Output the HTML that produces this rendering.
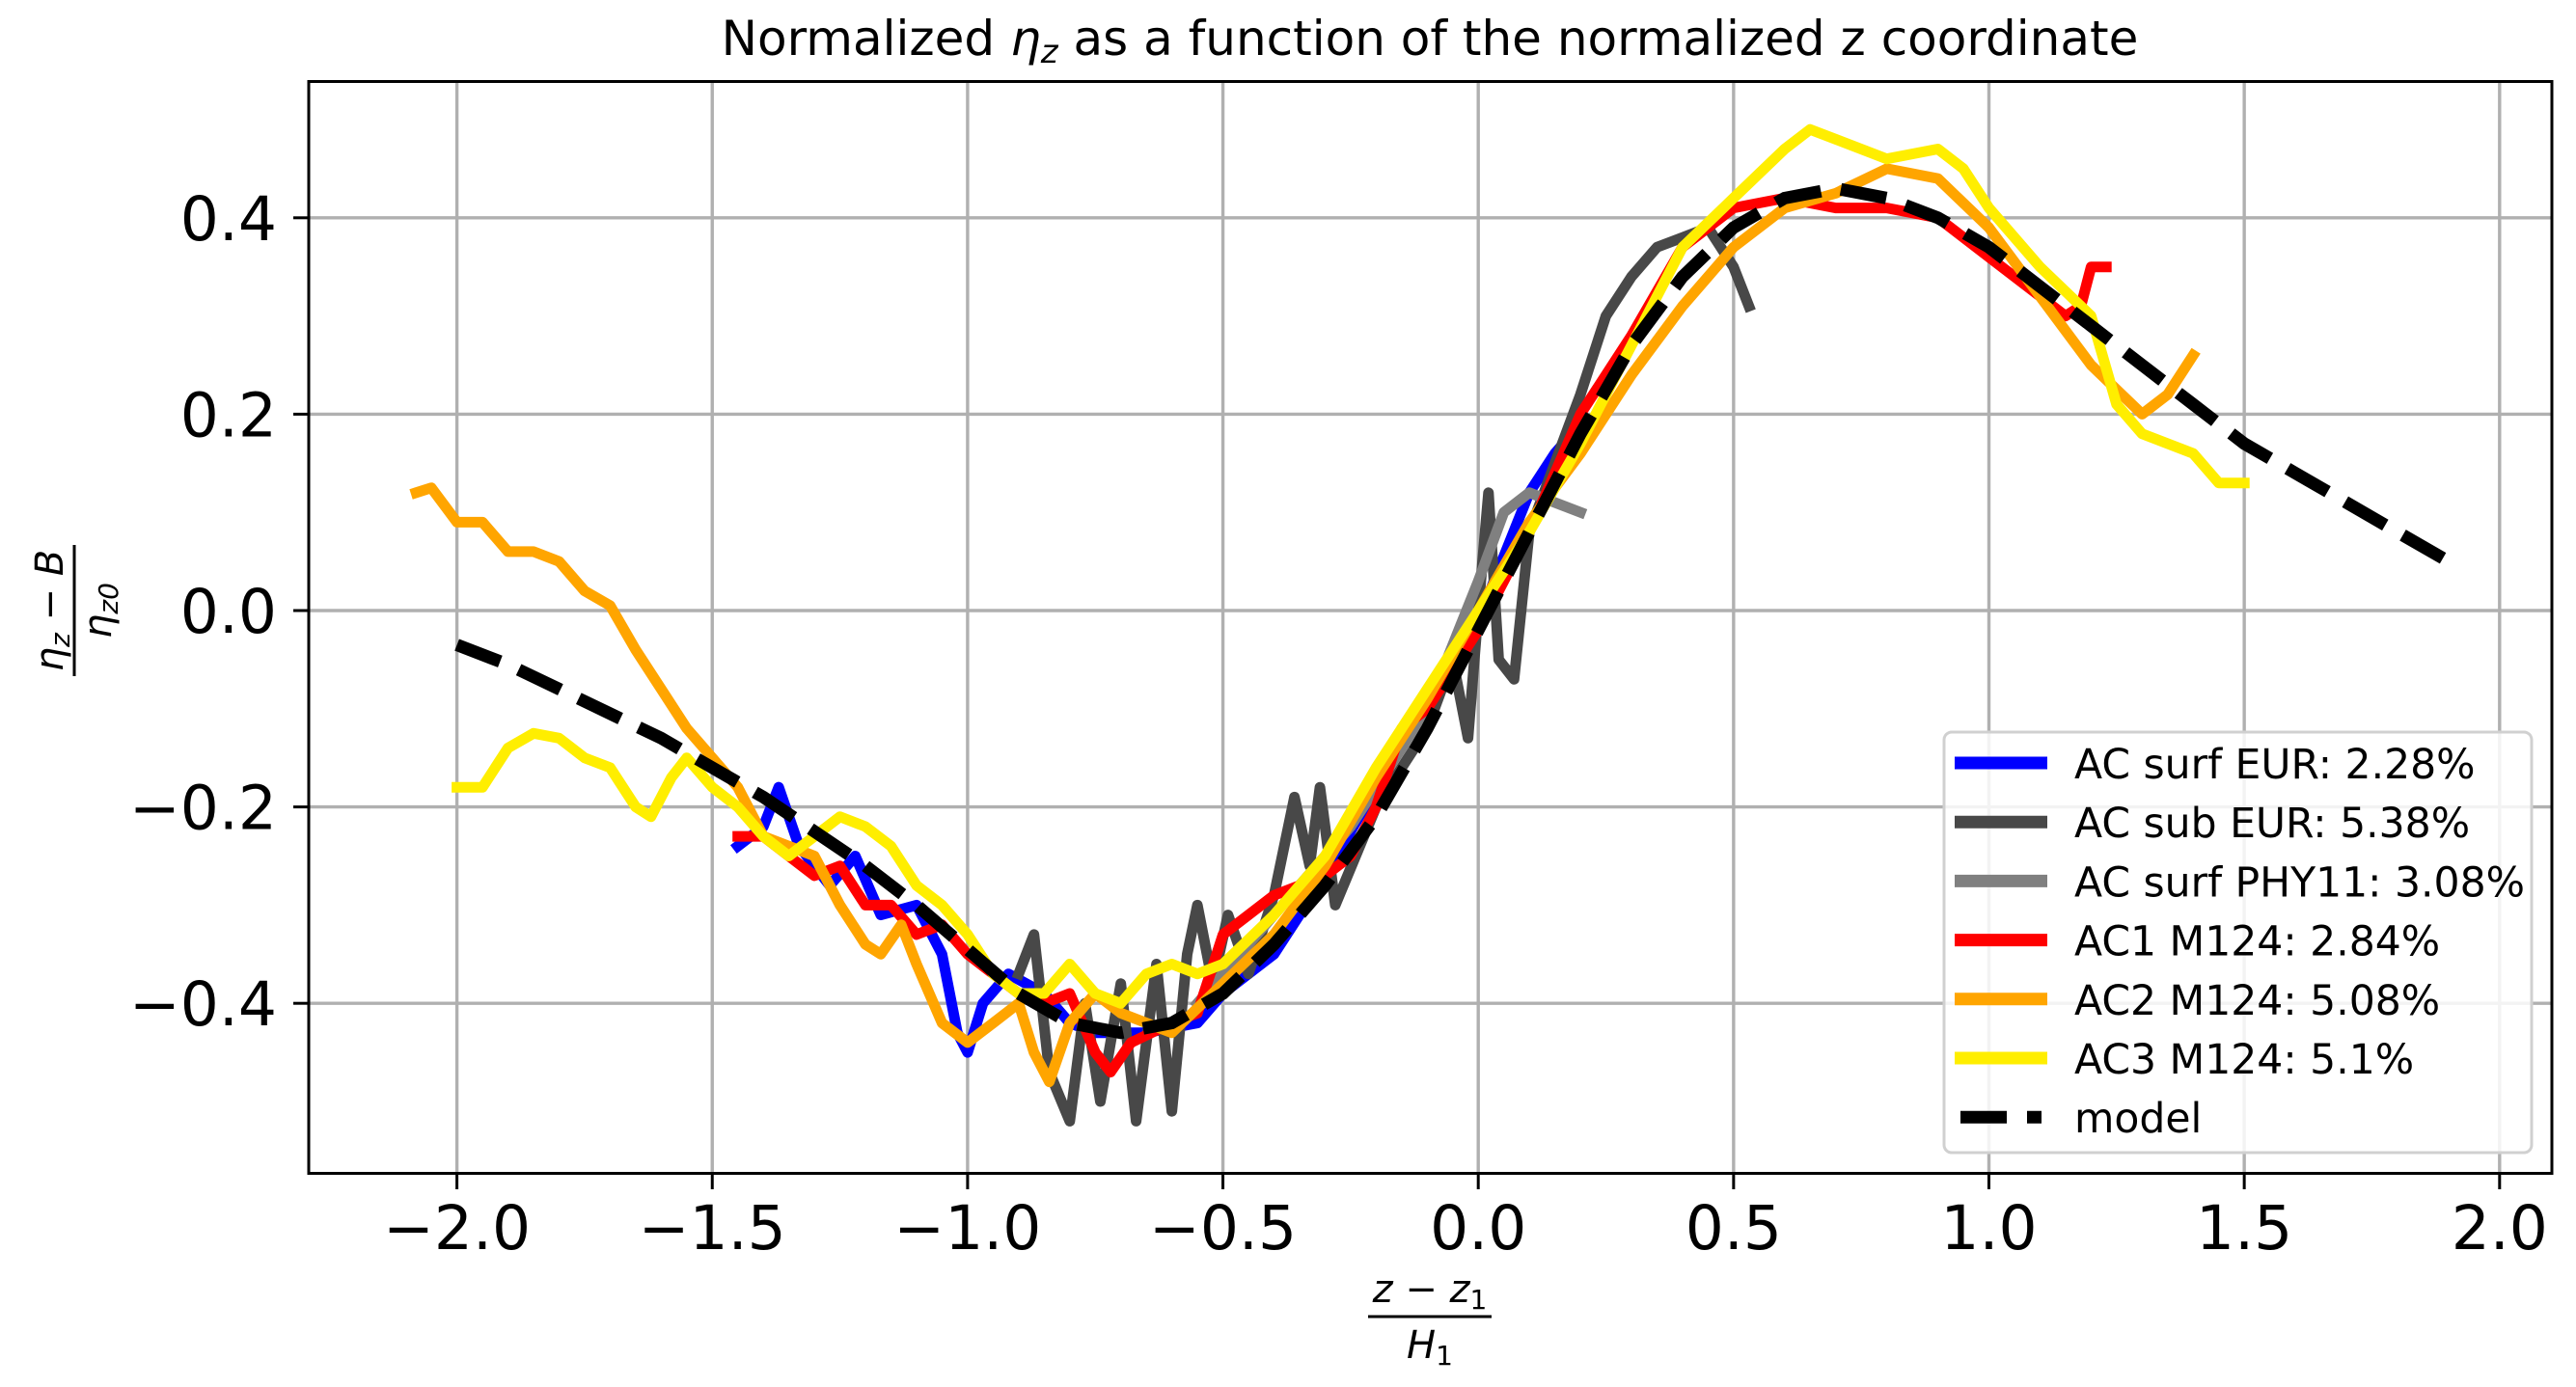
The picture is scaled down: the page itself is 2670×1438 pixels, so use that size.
<!DOCTYPE html>
<html><head><meta charset="utf-8"><style>
html,body{margin:0;padding:0;background:#fff;}
svg{display:block;font-family:"DejaVu Sans","Liberation Sans",sans-serif;}
</style></head><body>
<svg id="chart" width="2670" height="1438" viewBox="0 0 2670 1438" xmlns="http://www.w3.org/2000/svg">
<rect width="2670" height="1438" fill="#fff"/>
<g id="grid"></g>
<g id="series"></g>
<rect x="320" y="84.5" width="2325" height="1132" fill="none" stroke="#000" stroke-width="3"/>
<g id="ticks"></g>
<text x="1482" y="57" font-size="50" text-anchor="middle">Normalized <tspan font-style="italic">η</tspan><tspan font-style="italic" font-size="34" dy="8">z</tspan><tspan dy="-8"> as a function of the normalized z coordinate</tspan></text>
<g>
<text x="1482" y="1350" font-size="40" text-anchor="middle" font-style="italic">z − z<tspan font-size="28" dy="7" font-style="normal">1</tspan></text>
<line x1="1418" y1="1365" x2="1546" y2="1365" stroke="#000" stroke-width="3"/>
<text x="1482" y="1408" font-size="40" text-anchor="middle" font-style="italic">H<tspan font-size="28" dy="7" font-style="normal">1</tspan></text>
</g>
<g transform="translate(77,633) rotate(-90)">
<text x="0" y="-12" font-size="40" text-anchor="middle" font-style="italic">η<tspan font-size="28" dy="7">z</tspan><tspan dy="-7" font-style="normal"> − </tspan>B</text>
<line x1="-68" y1="0" x2="68" y2="0" stroke="#000" stroke-width="3"/>
<text x="0" y="38" font-size="40" text-anchor="middle" font-style="italic">η<tspan font-size="28" dy="7">z0</tspan></text>
</g>
<g id="legend">
<rect x="2015" y="759" width="609" height="436" rx="8" fill="#fff" fill-opacity="0.85" stroke="#d0d0d0" stroke-width="3"/>
</g>
</svg>
<script>
const xTicks = [-2.0,-1.5,-1.0,-0.5,0.0,0.5,1.0,1.5,2.0];
const yTicks = [-0.4,-0.2,0.0,0.2,0.4];
const modelX = [-2.0,-1.9,-1.8,-1.7,-1.6,-1.5,-1.4,-1.3,-1.2,-1.1,-1.0,-0.9,-0.8,-0.7,-0.6,-0.5,-0.4,-0.3,-0.2,-0.1,0,0.1,0.2,0.3,0.4,0.5,0.6,0.7,0.8,0.9,1.0,1.1,1.2,1.3,1.4,1.5,1.6,1.7,1.8,1.9];
const modelY = [-0.035,-0.055,-0.08,-0.105,-0.13,-0.16,-0.19,-0.225,-0.26,-0.30,-0.345,-0.39,-0.42,-0.43,-0.42,-0.39,-0.34,-0.28,-0.21,-0.12,-0.02,0.08,0.18,0.27,0.34,0.39,0.42,0.43,0.42,0.40,0.37,0.33,0.29,0.25,0.21,0.17,0.14,0.11,0.08,0.05];
const ac2 = [[-2.08,0.12],[-2.05,0.125],[-2.0,0.09],[-1.95,0.09],[-1.9,0.06],[-1.85,0.06],[-1.8,0.05],[-1.75,0.02],[-1.7,0.005],[-1.65,-0.04],[-1.6,-0.08],[-1.55,-0.12],[-1.5,-0.15],[-1.45,-0.18],[-1.4,-0.23],[-1.35,-0.24],[-1.3,-0.25],[-1.25,-0.3],[-1.2,-0.34],[-1.17,-0.35],[-1.13,-0.32],[-1.1,-0.36],[-1.05,-0.42],[-1.0,-0.44],[-0.95,-0.42],[-0.9,-0.4],[-0.87,-0.45],[-0.84,-0.48],[-0.8,-0.42],[-0.75,-0.39],[-0.7,-0.41],[-0.6,-0.43],[-0.5,-0.38],[-0.4,-0.33],[-0.3,-0.26],[-0.2,-0.17],[-0.1,-0.09],[0,0.0],[0.1,0.09],[0.2,0.16],[0.3,0.24],[0.4,0.31],[0.5,0.37],[0.6,0.41],[0.7,0.425],[0.8,0.45],[0.9,0.44],[1.0,0.39],[1.1,0.32],[1.2,0.25],[1.3,0.2],[1.35,0.22],[1.4,0.26]];
const ac3 = [[-2.0,-0.18],[-1.95,-0.18],[-1.9,-0.14],[-1.85,-0.125],[-1.8,-0.13],[-1.75,-0.15],[-1.7,-0.16],[-1.65,-0.2],[-1.62,-0.21],[-1.58,-0.17],[-1.55,-0.15],[-1.5,-0.18],[-1.45,-0.2],[-1.4,-0.23],[-1.35,-0.25],[-1.3,-0.23],[-1.25,-0.21],[-1.2,-0.22],[-1.15,-0.24],[-1.1,-0.28],[-1.05,-0.3],[-1.0,-0.33],[-0.95,-0.37],[-0.9,-0.39],[-0.85,-0.39],[-0.8,-0.36],[-0.75,-0.39],[-0.7,-0.4],[-0.65,-0.37],[-0.6,-0.36],[-0.55,-0.37],[-0.5,-0.36],[-0.4,-0.31],[-0.3,-0.25],[-0.2,-0.16],[-0.1,-0.08],[0,0.0],[0.1,0.08],[0.2,0.17],[0.3,0.27],[0.4,0.37],[0.5,0.42],[0.6,0.47],[0.65,0.49],[0.7,0.48],[0.8,0.46],[0.9,0.47],[0.95,0.45],[1.0,0.41],[1.1,0.35],[1.2,0.3],[1.25,0.21],[1.3,0.18],[1.4,0.16],[1.45,0.13],[1.5,0.13]];
const ac1 = [[-1.45,-0.23],[-1.4,-0.23],[-1.35,-0.25],[-1.3,-0.27],[-1.25,-0.26],[-1.2,-0.3],[-1.15,-0.3],[-1.1,-0.33],[-1.05,-0.32],[-1.0,-0.35],[-0.95,-0.37],[-0.9,-0.39],[-0.85,-0.4],[-0.8,-0.39],[-0.75,-0.45],[-0.72,-0.47],[-0.68,-0.44],[-0.6,-0.42],[-0.55,-0.41],[-0.5,-0.33],[-0.45,-0.31],[-0.4,-0.29],[-0.3,-0.27],[-0.25,-0.25],[-0.2,-0.2],[-0.15,-0.12],[-0.1,-0.1],[0,-0.02],[0.1,0.08],[0.2,0.2],[0.3,0.28],[0.4,0.37],[0.5,0.41],[0.6,0.42],[0.7,0.41],[0.8,0.41],[0.9,0.4],[1.0,0.36],[1.1,0.32],[1.15,0.3],[1.18,0.31],[1.2,0.35],[1.23,0.35]];
const acSurfEur = [[-1.45,-0.24],[-1.4,-0.22],[-1.37,-0.18],[-1.33,-0.24],[-1.27,-0.28],[-1.22,-0.25],[-1.17,-0.31],[-1.1,-0.3],[-1.05,-0.35],[-1.02,-0.43],[-1.0,-0.45],[-0.97,-0.4],[-0.92,-0.37],[-0.85,-0.39],[-0.8,-0.42],[-0.75,-0.43],[-0.65,-0.43],[-0.55,-0.42],[-0.5,-0.39],[-0.4,-0.35],[-0.3,-0.27],[-0.2,-0.18],[-0.1,-0.09],[0,-0.01],[0.1,0.12],[0.15,0.16],[0.2,0.19]];
const acSubEur = [[-0.9,-0.37],[-0.87,-0.33],[-0.84,-0.47],[-0.8,-0.52],[-0.77,-0.4],[-0.74,-0.5],[-0.7,-0.38],[-0.67,-0.52],[-0.63,-0.36],[-0.6,-0.51],[-0.57,-0.35],[-0.55,-0.3],[-0.52,-0.38],[-0.49,-0.31],[-0.45,-0.37],[-0.4,-0.29],[-0.36,-0.19],[-0.33,-0.26],[-0.31,-0.18],[-0.28,-0.3],[-0.2,-0.2],[-0.1,-0.12],[-0.05,-0.05],[-0.02,-0.13],[0.0,0.0],[0.02,0.12],[0.04,-0.05],[0.07,-0.07],[0.1,0.08],[0.2,0.22],[0.25,0.3],[0.3,0.34],[0.35,0.37],[0.4,0.38],[0.45,0.39],[0.5,0.35],[0.53,0.31]];
const acSurfPhy = [[-0.55,-0.4],[-0.45,-0.34],[-0.35,-0.28],[-0.25,-0.22],[-0.1,-0.1],[0,0.03],[0.05,0.1],[0.1,0.12],[0.15,0.11],[0.2,0.1]];
const legendLabels = ["AC surf EUR: 2.28%","AC sub EUR: 5.38%","AC surf PHY11: 3.08%","AC1 M124: 2.84%","AC2 M124: 5.08%","AC3 M124: 5.1%","model"];

const NS="http://www.w3.org/2000/svg";
function sx(v){return 1532.2+529.3*v;}
function sy(v){return 633-1018*v;}
function mk(tag,attrs,parent){const e=document.createElementNS(NS,tag);for(const k in attrs)e.setAttribute(k,attrs[k]);parent.appendChild(e);return e;}
function fmt(v){const s=Math.abs(v).toFixed(1);return v<0?"\u2212"+s:s;}
const grid=document.getElementById('grid'),ticks=document.getElementById('ticks'),series=document.getElementById('series'),legend=document.getElementById('legend');
xTicks.forEach(v=>{
  const g=mk('line',{x1:sx(v),x2:sx(v),y1:84.5,y2:1216.5,stroke:'#b0b0b0','stroke-width':3.4},grid);
  
  
  const t=mk('line',{x1:sx(v),x2:sx(v),y1:1216.5,y2:1233,stroke:'#000','stroke-width':3},ticks);
  
  
  const l=mk('text',{x:sx(v),y:1295,'font-size':63,'text-anchor':'middle'},ticks);
  l.textContent=fmt(v);
  
  
});
yTicks.forEach(v=>{
  const g=mk('line',{x1:320,x2:2645,y1:sy(v),y2:sy(v),stroke:'#b0b0b0','stroke-width':3.4},grid);
  
  
  const t=mk('line',{x1:304,x2:320,y1:sy(v),y2:sy(v),stroke:'#000','stroke-width':3},ticks);
  
  
  const l=mk('text',{x:287,y:sy(v)+23,'font-size':63,'text-anchor':'end'},ticks);
  l.textContent=fmt(v);
  
  
});
function drawPairs(arr,color,name){
  const d=arr.map((p,i)=>(i?'L':'M')+sx(p[0]).toFixed(1)+' '+sy(p[1]).toFixed(1)).join(' ');
  const e=mk('path',{d:d,fill:'none',stroke:color,'stroke-width':11,'stroke-linejoin':'round','stroke-linecap':'square'},series);
  
  
}
drawPairs(acSurfEur,'#0000ff','ac-surf-eur-line');
drawPairs(acSubEur,'#484848','ac-sub-eur-line');
drawPairs(acSurfPhy,'#808080','ac-surf-phy11-line');
drawPairs(ac1,'#ff0000','ac1-m124-line');
drawPairs(ac2,'#ffa500','ac2-m124-line');
drawPairs(ac3,'#ffee00','ac3-m124-line');
const md=modelX.map((x,i)=>(i?'L':'M')+sx(x).toFixed(1)+' '+sy(modelY[i]).toFixed(1)).join(' ');
const m=mk('path',{d:md,fill:'none',stroke:'#000','stroke-width':13,'stroke-dasharray':'48 21'},series);


const colors=['#0000ff','#484848','#808080','#ff0000','#ffa500','#ffee00','#000'];
legendLabels.forEach((lab,i)=>{
  const y=791+i*61.2;
  const ln=mk('line',{x1:2026,x2:2122,y1:y,y2:y,stroke:colors[i],'stroke-width':13},legend);
  if(i===6){ln.setAttribute('x1',2032);ln.setAttribute('x2',2116);ln.setAttribute('stroke-dasharray','48 21');}
  
  
  const t=mk('text',{x:2150,y:y+16,'font-size':42.5},legend);
  t.textContent=lab;
  
  
});
</script>
</body></html>
